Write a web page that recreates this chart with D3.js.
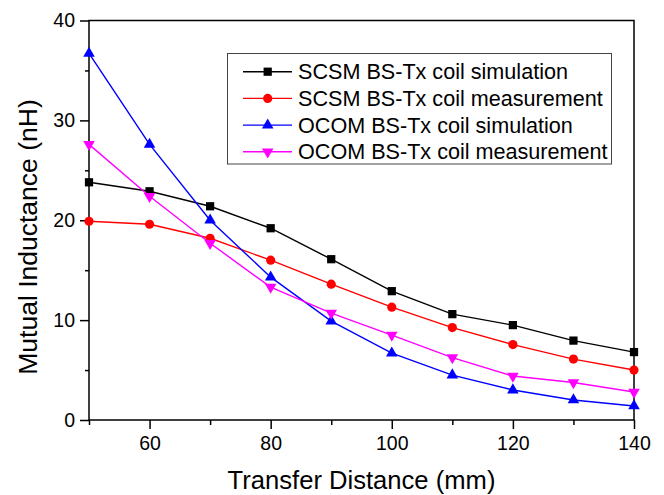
<!DOCTYPE html>
<html>
<head>
<meta charset="utf-8">
<script src="https://cdn.jsdelivr.net/npm/d3@7"></script>
<style>
  body { margin: 0; background: #fff; }
  text { font-family: "Liberation Sans", Arial, sans-serif; }
</style>
</head>
<body>
<div id="chart"></div>
<script>
// data
var distance = [50, 60, 70, 80, 90, 100, 110, 120, 130, 140];
var scsmSim  = [23.8, 22.9, 21.4, 19.2, 16.1, 12.9, 10.6, 9.5, 7.95, 6.8];
var scsmMeas = [19.9, 19.6, 18.2, 16.0, 13.6, 11.3, 9.25, 7.55, 6.1, 5.0];
var ocomSim  = [36.7, 27.6, 20.0, 14.3, 9.9, 6.7, 4.5, 3.0, 2.0, 1.4];
var ocomMeas = [27.6, 22.4, 17.7, 13.3, 10.7, 8.5, 6.25, 4.4, 3.75, 2.8];
var seriesNames = ["SCSM BS-Tx coil simulation", "SCSM BS-Tx coil measurement",
                   "OCOM BS-Tx coil simulation", "OCOM BS-Tx coil measurement"];
var xMajor = [60, 80, 100, 120, 140];
var xMinor = [50, 70, 90, 110, 130];
var yMajor = [0, 10, 20, 30, 40];
var yMinor = [5, 15, 25, 35];

function draw_chart() {
    var width = 664, height = 495;
    var left = 89, right = 634, top = 20.5, bottom = 420;

    var svg = d3.select("#chart").append("svg")
        .attr("width", width)
        .attr("height", height)
        .style("background-color", "white");

    var x = d3.scaleLinear().domain([50, 140]).range([left, right]);
    var y = d3.scaleLinear().domain([0, 40]).range([bottom, top]);

    // minor ticks first, then major ticks with labels
    svg.append("g")
        .attr("transform", "translate(0," + bottom + ")")
        .call(d3.axisBottom(x).tickValues(xMinor).tickSize(5).tickFormat(""))
        .call(g => g.select(".domain").remove());
    var gx = svg.append("g")
        .attr("transform", "translate(0," + bottom + ")")
        .call(d3.axisBottom(x).tickValues(xMajor).tickSize(9).tickPadding(7));
    gx.select(".domain").remove();
    gx.selectAll("text").style("font-size", "19.5px").attr("fill", "#000");

    svg.append("g")
        .attr("transform", "translate(" + left + ",0)")
        .call(d3.axisLeft(y).tickValues(yMinor).tickSize(4).tickFormat(""))
        .call(g => g.select(".domain").remove());
    var gy = svg.append("g")
        .attr("transform", "translate(" + left + ",0)")
        .call(d3.axisLeft(y).tickValues(yMajor).tickSize(9).tickPadding(5));
    gy.select(".domain").remove();
    gy.selectAll("text").style("font-size", "19.5px").attr("fill", "#000");

    svg.selectAll(".tick line").attr("stroke", "#000").attr("stroke-width", 1.5);

    // frame
    svg.append("rect")
        .attr("x", left).attr("y", top)
        .attr("width", right - left).attr("height", bottom - top)
        .attr("fill", "none").attr("stroke", "#000").attr("stroke-width", 1.5);

    var series = [
        { name: seriesNames[0], values: scsmSim,  color: "#000000", symbol: d3.symbolSquare,   size: 68,  rot: 0 },
        { name: seriesNames[1], values: scsmMeas, color: "#ff0000", symbol: d3.symbolCircle,   size: 66,  rot: 0 },
        { name: seriesNames[2], values: ocomSim,  color: "#0000ff", symbol: d3.symbolTriangle, size: 58,  rot: 0 },
        { name: seriesNames[3], values: ocomMeas, color: "#ff00ff", symbol: d3.symbolTriangle, size: 58,  rot: 180 }
    ];

    var line = d3.line()
        .x(function(d, i) { return x(distance[i]); })
        .y(function(d) { return y(d); });

    series.forEach(function(s) {
        svg.append("path")
            .datum(s.values)
            .attr("d", line)
            .attr("fill", "none")
            .attr("stroke", s.color)
            .attr("stroke-width", 1.4);
        svg.selectAll(null)
            .data(s.values)
            .enter()
            .append("path")
                .attr("d", d3.symbol().type(s.symbol).size(s.size))
                .attr("transform", function(d, i) {
                    return "translate(" + x(distance[i]) + "," + y(d) + ") rotate(" + s.rot + ")";
                })
                .attr("fill", s.color);
    });

    // legend
    var lg = svg.append("g");
    lg.append("rect")
        .attr("x", 227.5).attr("y", 53.5)
        .attr("width", 384).attr("height", 110.5)
        .attr("fill", "white").attr("stroke", "#444").attr("stroke-width", 1);
    series.forEach(function(s, i) {
        var ry = 71.7 + i * 26.7;
        lg.append("line")
            .attr("x1", 243).attr("x2", 292)
            .attr("y1", ry).attr("y2", ry)
            .attr("stroke", s.color).attr("stroke-width", 1.4);
        lg.append("path")
            .attr("d", d3.symbol().type(s.symbol).size(s.size)())
            .attr("transform", "translate(267.7," + ry + ") rotate(" + s.rot + ")")
            .attr("fill", s.color);
        lg.append("text")
            .attr("x", 298)
            .attr("y", ry + 7.5)
            .style("font-size", "21.6px")
            .text(s.name);
    });

    // axis titles
    svg.append("text")
        .attr("x", (left + right) / 2)
        .attr("y", 489)
        .attr("text-anchor", "middle")
        .style("font-size", "25.6px")
        .text("Transfer Distance (mm)");
    svg.append("text")
        .attr("transform", "translate(37,237) rotate(-90)")
        .attr("text-anchor", "middle")
        .style("font-size", "26.5px")
        .text("Mutual Inductance (nH)");
}

draw_chart();
</script>
</body>
</html>
